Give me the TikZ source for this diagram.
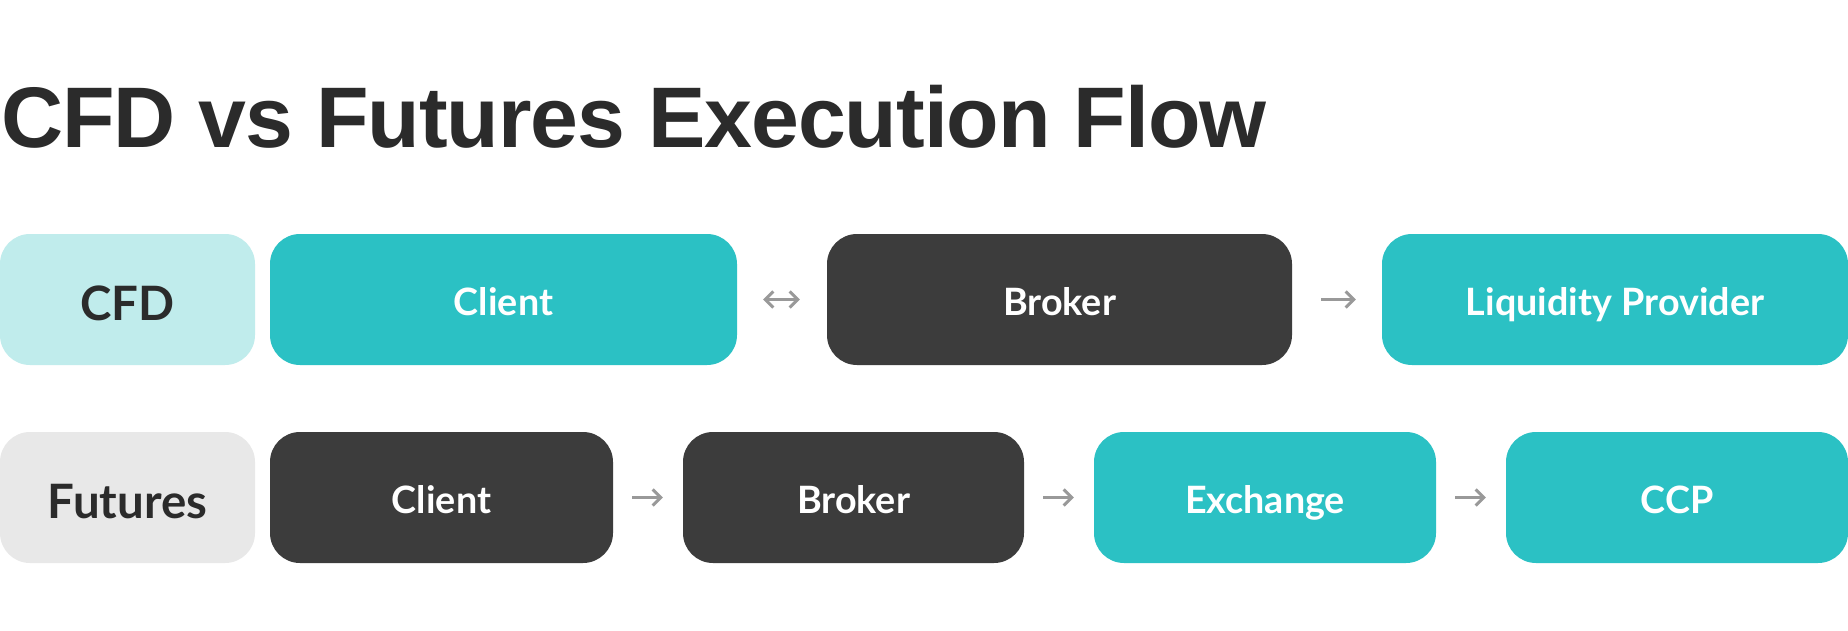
\documentclass[tikz,border=0pt]{standalone}
\usepackage{fontspec}
\setmainfont{Lato}
\newfontfamily\titlefont[LetterSpace=-1.2]{Liberation Sans}
\usetikzlibrary{arrows.meta}
\definecolor{teal}{HTML}{2BC1C4}
\definecolor{lteal}{HTML}{C0ECEC}
\definecolor{dark}{HTML}{3C3C3C}
\definecolor{lgray}{HTML}{E8E8E8}
\definecolor{ink}{HTML}{2B2B2B}
\definecolor{arrgray}{HTML}{999999}
\tikzset{
  box/.style={rounded corners=30pt, inner sep=0pt, minimum height=131pt, text height=31pt, text depth=0pt, font=\fontsize{37.7}{44}\selectfont\bfseries, text=white},
  tealbox/.style={box, fill=teal},
  darkbox/.style={box, fill=dark},
  headbox/.style={box, text=ink, text height=41pt, font=\fontsize{47.4}{56}\selectfont\bfseries},
  arr/.style={draw=arrgray, line width=3pt, -{Straight Barb[length=8pt,width=16pt,line width=3pt]}},
  darr/.style={draw=arrgray, line width=3pt, {Straight Barb[length=8pt,width=16pt,line width=3pt]}-{Straight Barb[length=8pt,width=16pt,line width=3pt]}}
}
\begin{document}
\begin{tikzpicture}[x=1pt,y=-1pt]
\useasboundingbox[fill=white] (0,0) rectangle (1848,630);
\node[anchor=base west, inner sep=0pt, text=ink, font=\titlefont\fontsize{86}{100}\selectfont\bfseries] (title) at (1,147) {CFD vs Futures Execution Flow};
% row 1
\node[headbox, fill=lteal, minimum width=255pt] (cfd) at (127.5,299.5) {CFD};
\node[tealbox, minimum width=467pt] (client1) at (503.5,299.5) {Client};
\node[darkbox, minimum width=465pt] (broker1) at (1059.5,299.5) {Broker};
\node[tealbox, minimum width=466pt] (lp) at (1615,299.5) {Liquidity Provider};
% row 2
\node[headbox, fill=lgray, minimum width=255pt] (fut) at (127.5,497.5) {Futures};
\node[darkbox, minimum width=343pt] (client2) at (441.5,497.5) {Client};
\node[darkbox, minimum width=341pt] (broker2) at (853.5,497.5) {Broker};
\node[tealbox, minimum width=342pt] (exch) at (1265,497.5) {Exchange};
\node[tealbox, minimum width=342pt] (ccp) at (1677,497.5) {CCP};
% connectors
\draw[darr, shorten <=26pt, shorten >=27pt] (client1) -- (broker1);
\draw[arr, shorten <=29pt, shorten >=26pt] (broker1) -- (lp);
\draw[arr, shorten <=19pt, shorten >=20pt] (client2) -- (broker2);
\draw[arr, shorten <=19pt, shorten >=20pt] (broker2) -- (exch);
\draw[arr, shorten <=19pt, shorten >=20pt] (exch) -- (ccp);
\end{tikzpicture}
\end{document}
